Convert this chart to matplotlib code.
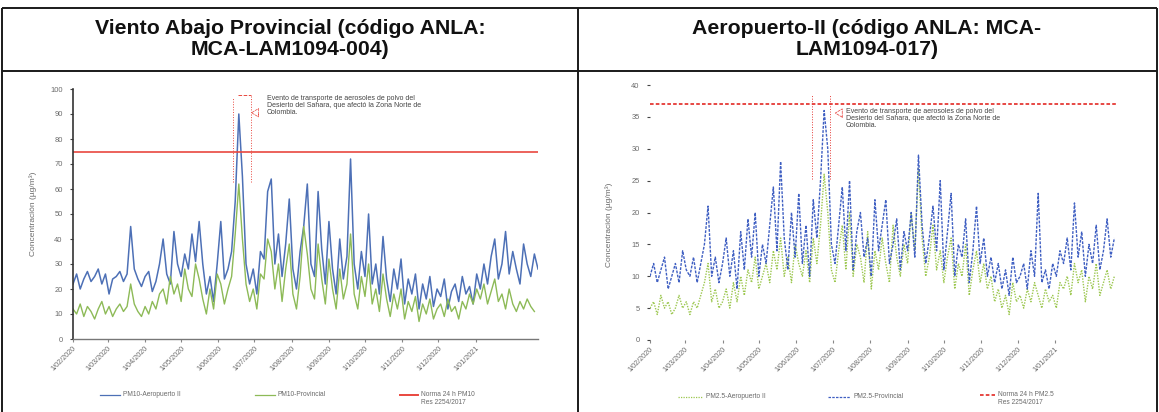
import matplotlib
matplotlib.use("Agg")
import matplotlib.pyplot as plt
import matplotlib.ticker as mticker
from matplotlib.lines import Line2D
import pandas as pd

# ---------------- data ----------------
start_date = "2020-02-01"
end_date = "2021-02-22"
tick_dates = pd.date_range("2020-02-01", "2021-01-01", freq="MS")

titles = ["Viento Abajo Provincial (código ANLA:\nMCA-LAM1094-004)",
          "Aeropuerto-II (código ANLA: MCA-\nLAM1094-017)"]

# PM10 (left chart), values every 3 days, µg/m³
pm10_blue = [22, 26, 20, 24, 27, 23, 25, 28, 22, 26, 18, 24, 25, 27, 23, 26,
             45, 28, 24, 21, 25, 27, 19, 23, 30,
             40, 26, 22, 43, 30, 25, 34, 28, 42, 31, 47,
             30, 18, 25, 15, 30, 47, 24, 28,
             35, 55, 90, 65, 30, 22, 28, 18, 35,
             32, 59, 64, 30, 42, 25, 38, 56, 28, 20, 35, 45, 62, 30, 25, 59, 36, 22,
             47, 28, 18, 40, 24, 33, 72, 30, 20, 35, 25, 50, 22, 30, 18, 41, 24, 15,
             28, 20, 32, 14, 24, 18, 26, 12, 22, 16, 25, 13, 20, 17, 24, 12, 19, 22,
             15, 25, 18, 21, 14, 26, 20, 30, 22, 33, 40, 24, 30, 43, 26, 35, 28, 22,
             38, 30, 25, 34, 28]
pm10_green = [12, 10, 14, 9, 13, 11, 8, 12, 15, 10, 13, 9, 12, 14, 11, 13,
              22, 14, 11, 9, 13, 10, 15, 12, 18,
              20, 14, 25, 18, 22, 15, 28, 20, 17, 30, 24,
              16, 10, 20, 12, 26, 22, 14, 20,
              25, 42, 62, 40, 22, 15, 20, 12, 26,
              24, 40, 35, 20, 30, 15, 28, 38, 18, 12, 25, 45, 34, 20, 16, 38, 24, 14,
              32, 20, 12, 28, 16, 22, 42, 18, 12, 25, 17, 30, 14, 20, 11, 26, 16, 9,
              18, 12, 20, 8, 15, 11, 17, 7, 14, 10, 16, 8, 12, 14, 9, 16, 11, 13,
              8, 15, 12, 18, 14, 20, 16, 22, 14, 19, 24, 15, 18, 12, 20, 14, 11,
              15, 12, 16, 13, 11]
pm10_norm = 75

# PM2.5 (right chart), values every 3 days, µg/m³
pm25_green = [5, 6, 4, 7, 5, 6, 4, 5, 7, 5, 6, 4, 6, 5,
              7, 9, 12, 6, 8, 5,
              6, 8, 5, 9, 6, 10, 7, 11, 9, 13, 8,
              10, 12, 9, 14, 11, 16, 10, 13, 9, 15, 12,
              10, 14, 9, 16, 12,
              18, 26, 20, 11,
              9, 14, 18, 11, 20, 10, 15, 13, 9, 17,
              8, 14, 11, 16, 12, 9, 18, 13, 10, 15, 12, 20, 14, 27, 16, 10, 13, 18, 11, 14,
              9, 13, 16, 8, 12, 10, 15, 7, 11, 14, 9, 12, 8, 10,
              6, 8, 5, 7, 4, 9, 6, 7, 5, 8, 6, 9, 7, 5, 8, 6, 7, 5, 9,
              8, 10, 7, 12, 9, 11, 6, 10, 8, 12, 7, 9, 11, 8, 10]
pm25_blue = [10, 12, 9, 11, 13, 8, 10, 12, 9, 14, 11, 10, 13, 9,
             12, 15, 21, 10, 13, 9,
             12, 16, 10, 14, 8, 17, 11, 19, 13, 20, 10,
             15, 12, 18, 24, 14, 28, 16, 11, 20, 13, 23,
             12, 18, 10, 22, 16,
             25, 36, 30, 15,
             12, 18, 24, 14, 25, 11, 17, 20, 13, 16,
             10, 22, 14, 18, 22, 12, 15, 19, 11, 17, 14, 20, 13, 29, 18, 12, 16, 21, 14, 25,
             11, 17, 23, 10, 15, 13, 19, 9, 14, 21, 12, 16, 10, 13,
             9, 12, 8, 11, 7, 13, 9, 10, 12, 8, 14, 10, 23, 9, 11, 8, 12, 10, 14,
             12, 16, 11, 21.5, 13, 17, 10, 15, 12, 18, 11, 14, 19, 13, 16]
pm25_norm = 37

left_labels = ["PM10-Aeropuerto II", "PM10-Provincial", "Norma 24 h PM10\nRes 2254/2017"]
right_labels = ["PM2.5-Aeropuerto II", "PM2.5-Provincial", "Norma 24 h PM2.5\nRes 2254/2017"]
note = ("Evento de transporte de aerosoles de polvo del\n"
        "Desierto del Sahara, que afectó la Zona Norte de\n"
        "Colombia.")
ylabel = "Concentración (µg/m³)"

# ---------------- styling ----------------
plt.rcParams['font.family'] = ['Liberation Sans', 'DejaVu Sans']
W, H = 1159, 412
fig = plt.figure(figsize=(W / 100, H / 100), dpi=100)
fig.patch.set_facecolor("white")

BLUE_L, GREEN_L, RED_L = "#4d70b6", "#8dba57", "#e9483f"
BLUE_R, GREEN_R, RED_R = "#3f5fc2", "#9cc74f", "#e53935"
TXT = "#6a6a6a"


def rect(x0, y0, x1, y1):
    return [x0 / W, 1 - y1 / H, (x1 - x0) / W, (y1 - y0) / H]


def dates_for(vals):
    return pd.date_range(start_date, periods=len(vals), freq="3D")


def fmt_date(x, pos=None):
    d = matplotlib.dates.num2date(x)
    return f"{d.day}/{d.month:02d}/{d.year}"


# table borders
def fline(xs, ys, lw=1.4):
    fig.add_artist(Line2D([x / W for x in xs], [1 - y / H for y in ys],
                          color="#1a1a1a", lw=lw, solid_capstyle="butt"))


fline([2, 1157], [8, 8])
fline([2, 1157], [71, 71])
fline([2, 2], [8, 412])
fline([578, 578], [8, 412])
fline([1157, 1157], [8, 412])

fig.text(290 / W, 1 - 39 / H, titles[0], ha="center", va="center", fontsize=15.3,
         fontweight="bold", linespacing=1.15, color="#111111")
fig.text(867 / W, 1 - 39 / H, titles[1], ha="center", va="center", fontsize=15.3,
         fontweight="bold", linespacing=1.15, color="#111111")


def style_axis(ax, ymax, ystep, spines_visible):
    ax.set_xlim(pd.Timestamp(start_date), pd.Timestamp(end_date))
    ax.set_ylim(0, ymax)
    ax.yaxis.set_major_locator(mticker.MultipleLocator(ystep))
    ax.set_xticks(tick_dates)
    ax.xaxis.set_major_formatter(mticker.FuncFormatter(fmt_date))
    ax.tick_params(axis="x", labelsize=5.2, labelcolor=TXT, length=2, color="#888888",
                   pad=2)
    ax.tick_params(axis="y", labelsize=5.4, labelcolor=TXT, length=2.5, color="#444444",
                   pad=5)
    for lab in ax.get_xticklabels():
        lab.set_rotation(45)
        lab.set_ha("right")
        lab.set_rotation_mode("anchor")
    for s in ["top", "right"]:
        ax.spines[s].set_visible(False)
    if spines_visible:
        ax.spines["left"].set_color("#333333")
        ax.spines["left"].set_linewidth(1.2)
        ax.spines["bottom"].set_color("#777777")
        ax.spines["bottom"].set_linewidth(1.0)
    else:
        ax.spines["left"].set_visible(False)
        ax.spines["bottom"].set_visible(False)
    ax.set_ylabel(ylabel, fontsize=6, color=TXT)


# ---------------- left chart ----------------
axL = fig.add_axes(rect(73, 89, 538, 339))
axL.plot(dates_for(pm10_blue), pm10_blue, color=BLUE_L, lw=1.1)
axL.plot(dates_for(pm10_green), pm10_green, color=GREEN_L, lw=1.0)
axL.axhline(pm10_norm, color=RED_L, lw=1.2)
style_axis(axL, 100, 10, True)
axL.yaxis.set_label_coords(-0.077, 0.5)

# annotation (axes coords)
axL.plot([0.344, 0.344], [0.63, 0.965], transform=axL.transAxes, color=RED_L, lw=0.7, ls=":")
axL.plot([0.383, 0.383], [0.63, 0.975], transform=axL.transAxes, color=RED_L, lw=0.7, ls=":")
axL.plot([0.355, 0.383], [0.975, 0.975], transform=axL.transAxes, color=RED_L, lw=0.7, ls="--")
axL.annotate("", xy=(0.378, 0.905), xytext=(0.405, 0.905), xycoords="axes fraction",
             arrowprops=dict(arrowstyle="simple,head_width=0.6,head_length=0.5,tail_width=0.25",
                             fc="white", ec=RED_L, lw=0.5, ls="--"))
axL.text(0.417, 0.975, note, transform=axL.transAxes, fontsize=5.0, va="top", ha="left",
         color="#444444", linespacing=1.0)

# ---------------- right chart ----------------
axR = fig.add_axes(rect(650, 85, 1118, 340))
axR.plot(dates_for(pm25_green), pm25_green, color=GREEN_R, lw=1.0, ls=(0, (1, 1)))
axR.plot(dates_for(pm25_blue), pm25_blue, color=BLUE_R, lw=1.0, ls=(0, (2, 1)))
axR.axhline(pm25_norm, color=RED_R, lw=1.3, ls=(0, (2, 1.2)))
style_axis(axR, 40, 5, False)
axR.yaxis.set_label_coords(-0.079, 0.45)

axR.plot([0.346, 0.346], [0.63, 0.962], transform=axR.transAxes, color=RED_R, lw=0.7, ls=":")
axR.plot([0.385, 0.385], [0.63, 0.962], transform=axR.transAxes, color=RED_R, lw=0.7, ls=":")
axR.annotate("", xy=(0.39, 0.89), xytext=(0.41, 0.89), xycoords="axes fraction",
             arrowprops=dict(arrowstyle="simple,head_width=0.6,head_length=0.5,tail_width=0.25",
                             fc="white", ec=RED_R, lw=0.5, ls="--"))
axR.text(0.419, 0.91, note, transform=axR.transAxes, fontsize=5.0, va="top", ha="left",
         color="#444444", linespacing=1.0)


# ---------------- legends (manual) ----------------
def legend_item(x0, x1, y, color, ls, lw, label):
    fig.add_artist(Line2D([x0 / W, x1 / W], [1 - y / H, 1 - y / H], color=color,
                          ls=ls, lw=lw))
    multi = "\n" in label
    fig.text((x1 + 3) / W, 1 - (y - 4 if multi else y) / H, label, fontsize=4.8,
             color=TXT, va="top" if multi else "center", ha="left", linespacing=1.15)


legend_item(100, 120, 395, BLUE_L, "-", 0.9, left_labels[0])
legend_item(255, 275, 395, GREEN_L, "-", 0.9, left_labels[1])
legend_item(400, 418, 395, RED_L, "-", 1.4, left_labels[2])

legend_item(678, 703, 397, GREEN_R, (0, (1, 1)), 0.9, right_labels[0])
legend_item(828, 850, 397, BLUE_R, (0, (2, 1)), 0.9, right_labels[1])
legend_item(980, 995, 395, RED_R, (0, (2, 1.2)), 1.3, right_labels[2])

fig.savefig("out.png", dpi=100)
